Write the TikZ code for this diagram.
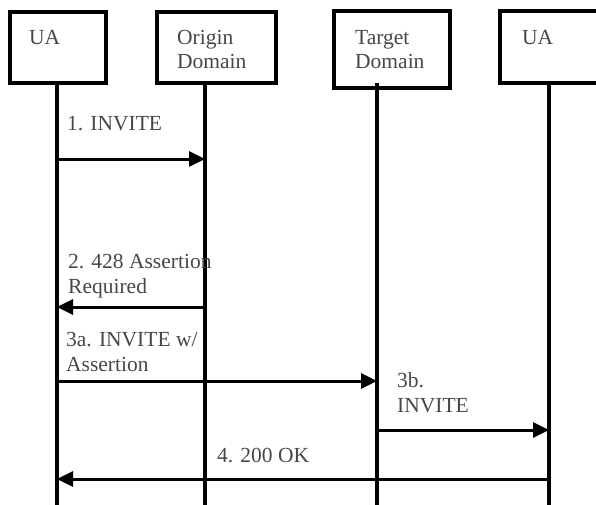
\documentclass[tikz,border=0pt]{standalone}
\usepackage{fontspec}
\setmainfont{Liberation Serif}
\usetikzlibrary{arrows.meta, positioning, calc}

\begin{document}
\begin{tikzpicture}[x=1pt, y=-1pt,
    entity/.style={rectangle, draw=black, line width=4.2pt, fill=white, inner sep=0pt},
    tag/.style={anchor=base west, inner sep=0pt, text=black!72, font=\fontsize{21.5}{24.5}\selectfont, align=left},
    life/.style={draw=black, line width=3.5pt},
    msg/.style={draw=black, line width=3pt, -{Triangle[length=16pt, width=15pt]}}]

    \useasboundingbox (0,0) rectangle (596,504);
    \clip (0,0) rectangle (596,504);

    % participants
    \node [entity, minimum width=96pt, minimum height=71pt] (ua1) at (58,47.5) {};
    \node [entity, minimum width=119pt, minimum height=71pt] (orig) at (216.5,47.5) {};
    \node [entity, minimum width=116pt, minimum height=77pt] (targ) at (392,49.5) {};
    \node [entity, minimum width=140pt, minimum height=72pt] (ua2) at (570,47) {};

    \node [tag] (ua1txt) at (29,44) {UA};
    \node [tag] (origtxt) at (177,68.5) {Origin\\Domain};
    \node [tag] (targtxt) at (355,68.5) {Target\\Domain};
    \node [tag] (ua2txt) at (522,44) {UA};

    % lifelines
    \coordinate (l1) at (57,510);
    \coordinate (l2) at (205,510);
    \coordinate (l3) at (377,510);
    \coordinate (l4) at (549,510);
    \path [life] (ua1.south -| l1) -- (l1);
    \path [life] (orig.south -| l2) -- (l2);
    \path [life] (377,83) -- (l3);
    \path [life] (ua2.south -| l4) -- (l4);

    % messages
    \coordinate (m1) at (0,159);
    \coordinate (m2) at (0,307);
    \coordinate (m3) at (0,381);
    \coordinate (m4) at (0,430);
    \coordinate (m5) at (0,479);

    \path [msg] (m1 -| l1) -- (m1 -| l2);
    \path [msg] (m2 -| l2) -- (m2 -| l1);
    \path [msg] (m3 -| l1) -- (m3 -| l3);
    \path [msg] (m4 -| l3) -- (m4 -| l4);
    \path [msg] (m5 -| l4) -- (m5 -| l1);

    \node [tag] (t1) at (67,130) {1. INVITE};
    \node [tag] (t2) at (68,293) {2. 428 Assertion\\Required};
    \node [tag] (t3) at (66,371) {3a. INVITE w/\\Assertion};
    \node [tag] (t4) at (397,412) {3b.\\INVITE};
    \node [tag] (t5) at (217,462) {4. 200 OK};
\end{tikzpicture}
\end{document}
